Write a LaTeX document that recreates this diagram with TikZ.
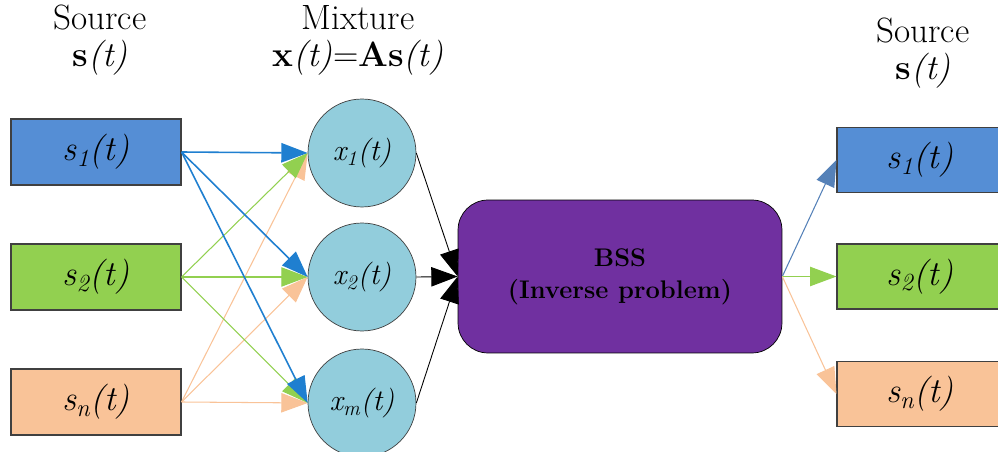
\documentclass[tikz,border=0pt]{standalone}
\usetikzlibrary{positioning, arrows.meta}

\definecolor{srcblue}{HTML}{558ED5}
\definecolor{srcgreen}{HTML}{92D050}
\definecolor{srcpeach}{HTML}{F9C398}
\definecolor{mixcyan}{HTML}{92CDDC}
\definecolor{bsspurple}{HTML}{7030A0}
\definecolor{lineblue}{HTML}{1F7FD0}
\definecolor{outblue}{HTML}{5581B8}

\newcommand{\sigt}[2]{#1\textsubscript{#2}(t)}

\begin{document}
\begin{tikzpicture}
    [
        x=0.02cm, y=-0.02cm,
        src_box/.style={rectangle, draw=black!75, semithick, minimum width=3.4cm, minimum height=1.32cm, font=\fontsize{20}{22}\selectfont\itshape},
        out_box/.style={src_box, minimum width=3.32cm, minimum height=1.3cm},
        mix_node/.style={circle, draw=black!75, fill=mixcyan, minimum size=2.16cm, inner sep=0pt, font=\fontsize{17}{20}\selectfont\itshape},
        bss_box/.style={rectangle, rounded corners=0.6cm, draw=black, fill=bsspurple, minimum width=6.48cm, minimum height=3.06cm, align=center, font=\fontsize{14.5}{18}\selectfont\bfseries},
        head_label/.style={align=center, font=\fontsize{20}{21}\selectfont},
        tip/.style={-{Triangle[length=15pt, width=11pt]}},
    ]
        \useasboundingbox (0,0) rectangle (998,452);
        % headers
        \node[head_label] (head_src) at (100,40) {Source\\\textbf{s}\textit{(t)}};
        \node[head_label] (head_mix) at (358,40) {Mixture\\\textbf{x}\textit{(t)}=\textbf{As}\textit{(t)}};
        \node[head_label] (head_out) at (923,53) {Source\\\textbf{s}\textit{(t)}};
        % sources
        \node[src_box, fill=srcblue] (s1) at (96,152) {\sigt{s}{1}};
        \node[src_box, fill=srcgreen] (s2) at (96,277) {\sigt{s}{2}};
        \node[src_box, fill=srcpeach] (sn) at (96,402) {\sigt{s}{n}};
        % mixtures
        \node[mix_node] (x1) at (362,153) {\sigt{x}{1}};
        \node[mix_node] (x2) at (362,277) {\sigt{x}{2}};
        \node[mix_node] (xm) at (362,403) {\sigt{x}{m}};
        % separation
        \node[bss_box] (bss) at (620,276.5) {BSS\\(Inverse problem)};
        % estimates
        \node[out_box, fill=srcblue] (r1) at (920,160) {\sigt{s}{1}};
        \node[out_box, fill=srcgreen] (r2) at (920,276.5) {\sigt{s}{2}};
        \node[out_box, fill=srcpeach] (rn) at (920,394) {\sigt{s}{n}};
        % mixing
        \foreach \x in {x1, x2, xm} {
            \draw[tip, line width=0.6pt, color=srcpeach] (sn.east) -- (\x.west) ;
        }
        \foreach \x in {x1, x2, xm} {
            \draw[tip, line width=0.6pt, color=srcgreen] (s2.east) -- (\x.west) ;
        }
        \foreach \x in {x1, x2, xm} {
            \draw[tip, line width=0.9pt, color=lineblue] (s1.east) -- (\x.west) ;
        }
        \foreach \x in {x1, x2, xm} {
            \draw[tip, line width=0.5pt, color=black] (\x.east) -- (bss.west) ;
        }
        % unmixing
        \draw[tip, line width=0.6pt, color=outblue] (bss.east) -- (r1.west) ;
        \draw[tip, line width=0.6pt, color=srcgreen] (bss.east) -- (r2.west) ;
        \draw[tip, line width=0.6pt, color=srcpeach] (bss.east) -- (rn.west) ;
\end{tikzpicture}
\end{document}
